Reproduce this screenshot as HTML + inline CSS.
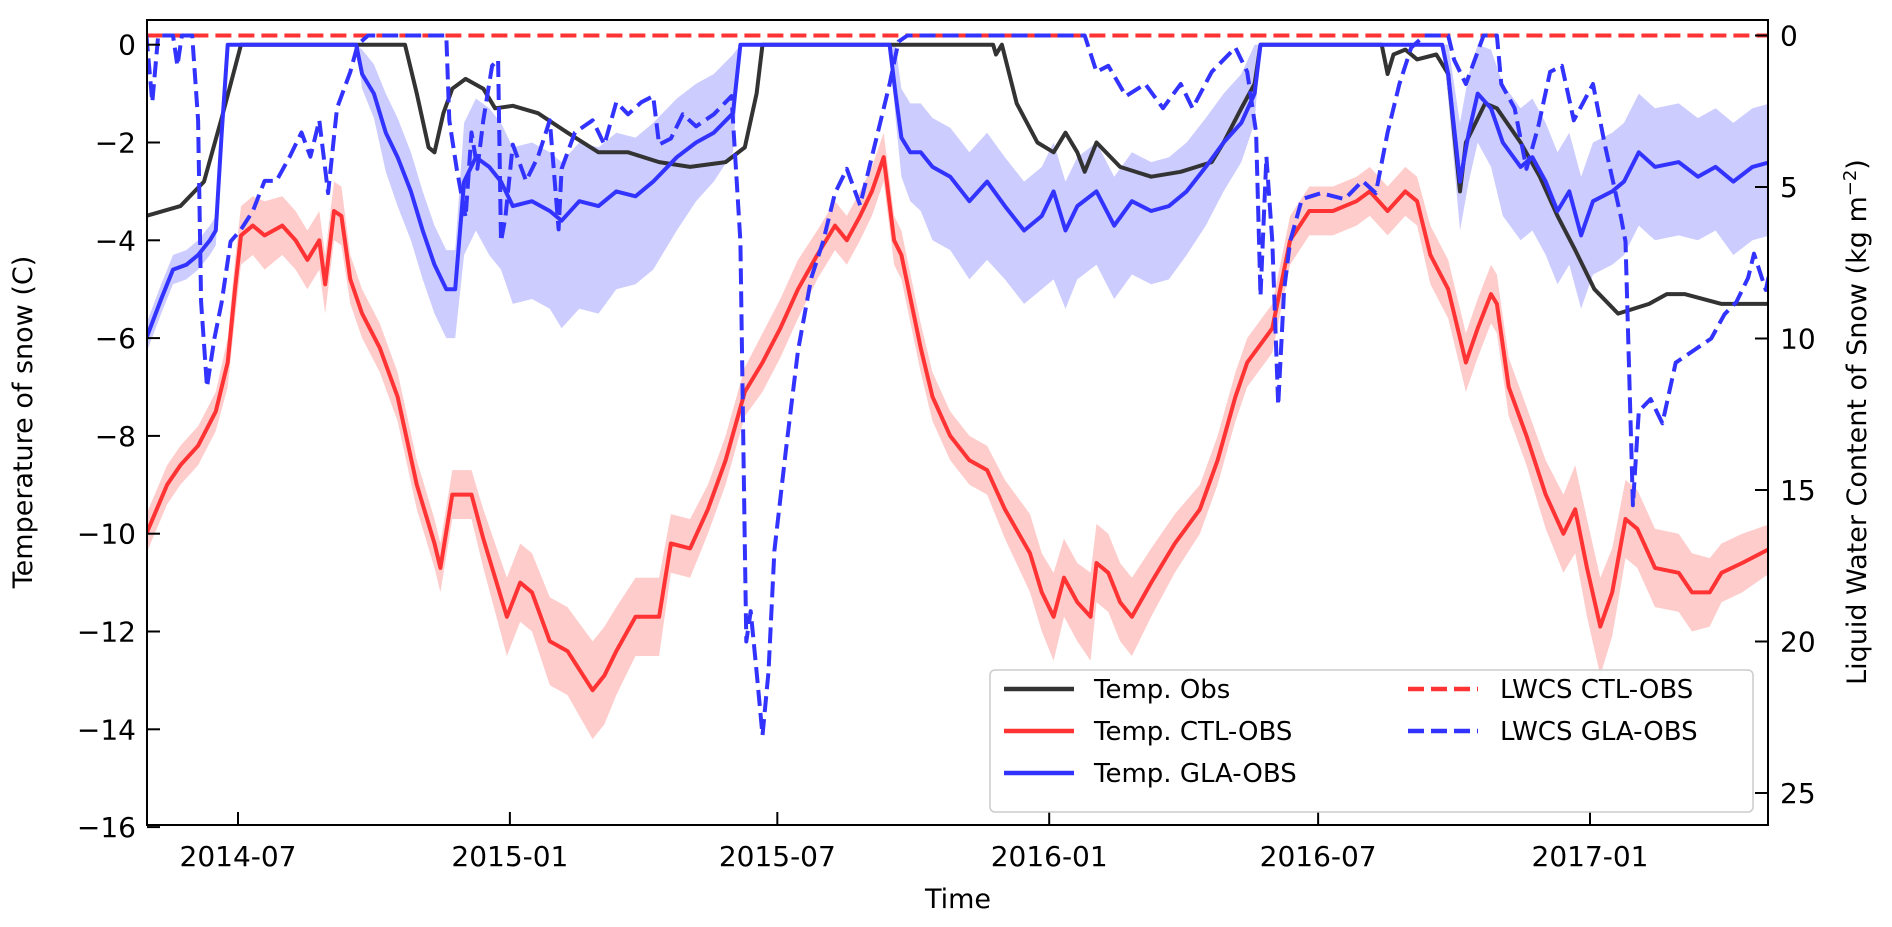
<!DOCTYPE html>
<html><head><meta charset="utf-8"><style>
html,body{margin:0;padding:0;background:#fff;}
svg{display:block;font-family:"DejaVu Sans","Liberation Sans",sans-serif;}
</style></head><body>
<svg id="chart" width="1892" height="927" viewBox="0 0 1892 927" xmlns="http://www.w3.org/2000/svg">
<defs><clipPath id="plotclip"><rect x="147" y="20" width="1621" height="805"/></clipPath></defs>
<g id="bands" clip-path="url(#plotclip)"></g>
<g id="lines" clip-path="url(#plotclip)"></g>
<rect x="147" y="20" width="1621" height="805" fill="none" stroke="#000" stroke-width="2"/>
<g id="axes"></g>
<text x="32" y="422" font-size="27" text-anchor="middle" transform="rotate(-90 32 422)">Temperature of snow (C)</text>
<text x="1866" y="422" font-size="27" text-anchor="middle" transform="rotate(-90 1866 422)">Liquid Water Content of Snow (kg m<tspan dy="-10" font-size="18">−2</tspan><tspan dy="10">)</tspan></text>
<text x="958" y="908" font-size="27" text-anchor="middle">Time</text>
<g>
<rect x="990" y="670" width="763" height="142" rx="5" fill="#fff" fill-opacity="0.85" stroke="#ccc" stroke-width="1.5"/>
<g><line x1="1004" y1="689" x2="1074" y2="689" stroke="#333" stroke-width="4.5"/><text x="1094" y="698" font-size="26">Temp. Obs</text></g>
<g><line x1="1004" y1="731" x2="1074" y2="731" stroke="#ff3333" stroke-width="4.5"/><text x="1094" y="740" font-size="26">Temp. CTL-OBS</text></g>
<g><line x1="1004" y1="773" x2="1074" y2="773" stroke="#3333ff" stroke-width="4.5"/><text x="1094" y="782" font-size="26">Temp. GLA-OBS</text></g>
<g><line x1="1408" y1="689" x2="1478" y2="689" stroke="#ff3333" stroke-width="4.5" stroke-dasharray="16,7"/><text x="1500" y="698" font-size="26">LWCS CTL-OBS</text></g>
<g><line x1="1408" y1="731" x2="1478" y2="731" stroke="#3333ff" stroke-width="4.5" stroke-dasharray="16,7"/><text x="1500" y="740" font-size="26">LWCS GLA-OBS</text></g>
</g>
</svg>
<script>
// ---- data (days since 2014-07-01) ----
const xTickDays = [0, 184, 365, 549, 731, 915];
const xTickLabels = ["2014-07","2015-01","2015-07","2016-01","2016-07","2017-01"];
const yLeftTicks = [0,-2,-4,-6,-8,-10,-12,-14,-16];
const yRightTicks = [0,5,10,15,20,25];

const obsDays = [-62,-39,-23,-11,2,113,121,129,133,139,145,154,166,174,186,203,223,244,264,285,306,330,343,351,355,511,513,517,527,541,552,560,568,573,581,597,618,638,659,667,679,688,692,774,778,782,790,798,811,819,827,831,844,852,868,881,893,905,918,934,955,967,979,1004,1041];
const obsTemp = [-3.5,-3.3,-2.8,-1.5,0,0,-1,-2.1,-2.2,-1.4,-0.9,-0.7,-0.9,-1.3,-1.25,-1.4,-1.8,-2.2,-2.2,-2.4,-2.5,-2.4,-2.1,-1,0,0,-0.2,0,-1.2,-2,-2.2,-1.8,-2.2,-2.6,-2,-2.5,-2.7,-2.6,-2.4,-2,-1.3,-0.8,0,0,-0.6,-0.2,-0.1,-0.3,-0.2,-0.6,-3,-2,-1.2,-1.3,-2,-2.7,-3.5,-4.2,-5,-5.5,-5.3,-5.1,-5.1,-5.3,-5.3];

const ctlDays = [-62,-48,-39,-27,-15,-7,-2,2,10,18,30,39,47,55,59,65,70,76,84,96,108,121,133,137,145,158,166,182,191,199,211,223,240,248,256,269,285,293,306,318,330,343,355,367,379,392,404,412,421,429,437,444,449,462,470,482,495,507,519,536,544,552,559,568,577,581,589,597,605,618,634,651,663,675,683,700,712,725,741,757,766,778,790,798,807,819,831,839,848,852,860,872,885,897,905,913,922,930,939,947,959,975,984,996,1004,1018,1037];
const ctlTemp = [-10,-9,-8.6,-8.2,-7.5,-6.5,-5,-3.9,-3.7,-3.9,-3.7,-4,-4.4,-4,-4.9,-3.4,-3.5,-4.8,-5.5,-6.2,-7.2,-9,-10.2,-10.7,-9.2,-9.2,-10.1,-11.7,-11,-11.2,-12.2,-12.4,-13.2,-12.9,-12.4,-11.7,-11.7,-10.2,-10.3,-9.5,-8.5,-7.1,-6.5,-5.8,-5,-4.3,-3.7,-4,-3.5,-3,-2.3,-4,-4.3,-6.2,-7.2,-8,-8.5,-8.7,-9.5,-10.4,-11.2,-11.7,-10.9,-11.4,-11.7,-10.6,-10.8,-11.4,-11.7,-11,-10.2,-9.5,-8.5,-7.2,-6.5,-5.8,-4,-3.4,-3.4,-3.2,-3,-3.4,-3,-3.2,-4.3,-5,-6.5,-5.8,-5.1,-5.3,-7,-8,-9.2,-10,-9.5,-10.7,-11.9,-11.2,-9.7,-9.9,-10.7,-10.8,-11.2,-11.2,-10.8,-10.6,-10.3];
const ctlSpread = [0.4,0.4,0.4,0.4,0.4,0.5,0.6,0.6,0.6,0.7,0.6,0.6,0.6,0.6,0.6,0.6,0.6,0.5,0.5,0.5,0.5,0.5,0.5,0.5,0.5,0.5,0.6,0.8,0.8,0.8,0.9,0.9,1,1,0.9,0.8,0.8,0.6,0.6,0.5,0.5,0.5,0.6,0.6,0.6,0.5,0.5,0.5,0.5,0.5,0.5,0.5,0.5,0.5,0.5,0.5,0.5,0.5,0.6,0.8,0.8,0.9,0.8,0.8,0.9,0.8,0.8,0.8,0.8,0.7,0.6,0.5,0.5,0.5,0.5,0.5,0.5,0.5,0.5,0.5,0.5,0.5,0.5,0.5,0.6,0.6,0.6,0.6,0.6,0.6,0.6,0.6,0.7,0.8,0.9,1,1,0.9,0.8,0.8,0.8,0.8,0.8,0.7,0.6,0.6,0.5];

const glaDays = [-62,-52,-44,-35,-27,-19,-15,-11,-7,80,84,92,100,108,117,125,133,141,147,153,161,170,178,186,199,211,219,231,244,256,269,281,297,310,322,335,340,441,445,449,455,462,470,482,495,507,519,532,544,552,560,568,581,593,605,618,630,642,655,667,679,688,692,815,819,827,833,839,848,856,868,876,885,893,901,909,917,930,938,948,959,975,988,1000,1012,1025,1037];
const glaTemp = [-6,-5.2,-4.6,-4.5,-4.3,-4,-3.8,-1.8,0,0,-0.6,-1,-1.8,-2.3,-3,-3.8,-4.5,-5,-5,-2.8,-2.3,-2.5,-2.8,-3.3,-3.2,-3.4,-3.6,-3.2,-3.3,-3,-3.1,-2.8,-2.3,-2,-1.8,-1.4,0,0,-1,-1.9,-2.2,-2.2,-2.5,-2.7,-3.2,-2.8,-3.3,-3.8,-3.5,-3,-3.8,-3.3,-3,-3.7,-3.2,-3.4,-3.3,-3,-2.5,-2,-1.6,-1,0,0,-0.6,-2.8,-1.8,-1,-1.3,-2,-2.5,-2.3,-2.8,-3.4,-3,-3.9,-3.2,-3,-2.8,-2.2,-2.5,-2.4,-2.7,-2.5,-2.8,-2.5,-2.4];
const glaSpreadLo = [0.3,0.3,0.3,0.3,0.3,0.3,0.3,0.3,0,0,0.3,0.5,0.8,1,1,1,1,1,1,1.5,1.5,1.8,1.8,2,2,2,2.2,2.2,2.2,2,1.8,1.8,1.5,1.2,1,0.8,0,0,0.5,0.8,1,1.2,1.5,1.5,1.6,1.6,1.5,1.5,1.5,1.8,1.6,1.5,1.5,1.5,1.5,1.5,1.5,1.3,1.2,1,0.8,0.6,0,0,0.5,1,1,1,1.2,1.5,1.5,1.5,1.5,1.5,1.5,1.5,1.5,1.5,1.5,1.5,1.5,1.5,1.3,1.3,1.5,1.5,1.5];
const glaSpreadHi = [0.3,0.3,0.3,0.3,0.3,0.3,0.3,0.3,0,0,0.5,0.6,0.8,0.8,0.8,0.8,0.8,0.8,0.8,1.2,1.2,1.2,1.2,1.2,1.2,1.2,1.2,1.2,1.2,1.2,1.2,1.2,1.2,1.2,1.2,1.2,0,0,1,1,1,1,1,1,1,1,1,1,1,1,1,1,1,1,1,1,1,1,1,1,1,1,0,0,0.6,1.2,1.2,1.2,1.2,1.2,1.2,1.2,1.2,1.2,1.2,1.2,1.2,1.2,1.2,1.2,1.2,1.2,1.2,1.2,1.2,1.2,1.2];

const lwcCtlDays = [-62,1041];
const lwcCtl = [0,0];
const lwcGlaDays = [-62,-58,-54,-44,-41,-38,-31,-27,-25,-21,-16,-11,-5,2,10,18,26,35,43,49,55,61,67,76,81,88,141,143,148,154,158,162,166,172,176,178,181,186,195,203,211,217,219,228,240,248,256,264,273,281,285,293,301,310,322,330,334,340,343,344,347,351,355,359,363,371,379,388,396,404,412,421,429,435,441,447,453,573,581,589,601,614,626,638,646,659,667,675,683,689,692,696,700,704,708,712,720,733,749,761,770,778,786,794,803,819,823,831,843,852,855,864,872,880,888,896,904,917,925,936,939,944,948,956,964,973,985,997,1006,1014,1022,1026,1034,1041];
const lwcGla = [0,2.2,0,0,1,0,0,2.8,8.8,11.6,10,8.8,6.8,6.4,5.8,4.8,4.8,4,3.2,4,2.8,5.2,2.4,1.2,0.3,0,0,2.8,4.4,6,3.2,4.4,2.8,1,0.8,6.8,6,3.6,4.8,4,2.8,6.4,4.4,3.2,2.8,3.6,2.2,2.6,2.2,2,3.6,3.4,2.6,3,2.6,2.2,2,6.8,16.8,20,19,21,23.1,21,17,13.6,10.4,8,6.8,5.2,4.4,5.6,4,2.8,1.6,0.2,0,0,1.2,1,2,1.6,2.4,1.6,2.4,1.2,0.8,0.4,1.2,3.2,8.6,4,6.8,12.2,8.4,6.8,5.4,5.2,5.4,4.8,5.2,3.2,1.6,0.4,0,0,0.8,1.6,0,0,1.6,2.4,4.4,3,1.2,1,2.8,1.6,3.6,6,6.8,15.5,12.4,12,12.8,10.8,10.4,10,9.2,8.8,8,7.2,8.4,6.8];

// ---- scales ----
const xS = d => 238 + d * 1.4776;
const yL = v => 44.7 - v * 48.9;
const yR = v => 35.5 + v * 30.3;
const NS = "http://www.w3.org/2000/svg";
const bandsG = document.getElementById('bands');
const linesG = document.getElementById('lines');
const axesG = document.getElementById('axes');

function mk(tag, attrs, parent){const e=document.createElementNS(NS,tag);for(const k in attrs)e.setAttribute(k,attrs[k]);parent.appendChild(e);return e;}
function pathOf(ds, vs, ys){return ds.map((d,i)=>(i?'L':'M')+xS(d).toFixed(1)+','+ys(vs[i]).toFixed(1)).join('');}
function bandPath(ds, lo, hi){
  let p = ds.map((d,i)=>(i?'L':'M')+xS(d).toFixed(1)+','+yL(hi[i]).toFixed(1)).join('');
  for(let i=ds.length-1;i>=0;i--) p+='L'+xS(ds[i]).toFixed(1)+','+yL(lo[i]).toFixed(1);
  return p+'Z';
}

const ctlLo = ctlTemp.map((v,i)=>v-ctlSpread[i]);
const ctlHi = ctlTemp.map((v,i)=>Math.min(0,v+ctlSpread[i]));
const glaLo = glaTemp.map((v,i)=>v-glaSpreadLo[i]);
const glaHi = glaTemp.map((v,i)=>Math.min(0,v+glaSpreadHi[i]));
let b1 = mk('path',{d:bandPath(glaDays,glaLo,glaHi),fill:'rgba(0,0,255,0.2)',stroke:'none'},bandsG);


let b2 = mk('path',{d:bandPath(ctlDays,ctlLo,ctlHi),fill:'rgba(255,0,0,0.2)',stroke:'none'},bandsG);



let l1 = mk('path',{d:pathOf(obsDays,obsTemp,yL),fill:'none',stroke:'#333',"stroke-width":4,"stroke-linejoin":'round'},linesG);


let l2 = mk('path',{d:pathOf(ctlDays,ctlTemp,yL),fill:'none',stroke:'#ff3333',"stroke-width":4,"stroke-linejoin":'round'},linesG);


let l3 = mk('path',{d:pathOf(glaDays,glaTemp,yL),fill:'none',stroke:'#3333ff',"stroke-width":4,"stroke-linejoin":'round'},linesG);


let l4 = mk('path',{d:pathOf(lwcCtlDays,lwcCtl,yR),fill:'none',stroke:'#ff3333',"stroke-width":4,"stroke-dasharray":'16,7'},linesG);


let l5 = mk('path',{d:pathOf(lwcGlaDays,lwcGla,yR),fill:'none',stroke:'#3333ff',"stroke-width":4,"stroke-dasharray":'16,7',"stroke-linejoin":'round'},linesG);



xTickDays.forEach((d,i)=>{
  const x=xS(d);
  const t=mk('line',{x1:x,y1:825,x2:x,y2:812,stroke:'#000',"stroke-width":2},axesG);
  
  
  const tx=mk('text',{x:x,y:866,"font-size":28,"text-anchor":'middle'},axesG);
  tx.textContent=xTickLabels[i];
  
  
});
yLeftTicks.forEach(v=>{
  const y=yL(v);
  const t=mk('line',{x1:147,y1:y,x2:160,y2:y,stroke:'#000',"stroke-width":2},axesG);
  
  
  const tx=mk('text',{x:136,y:y+10,"font-size":28,"text-anchor":'end'},axesG);
  tx.textContent=v<0?'\u2212'+Math.abs(v):String(v);
  
  
});
yRightTicks.forEach(v=>{
  const y=yR(v);
  const t=mk('line',{x1:1755,y1:y,x2:1768,y2:y,stroke:'#000',"stroke-width":2},axesG);
  
  
  const tx=mk('text',{x:1780,y:y+10,"font-size":28,"text-anchor":'start'},axesG);
  tx.textContent=String(v);
  
  
});
</script>
</body></html>
